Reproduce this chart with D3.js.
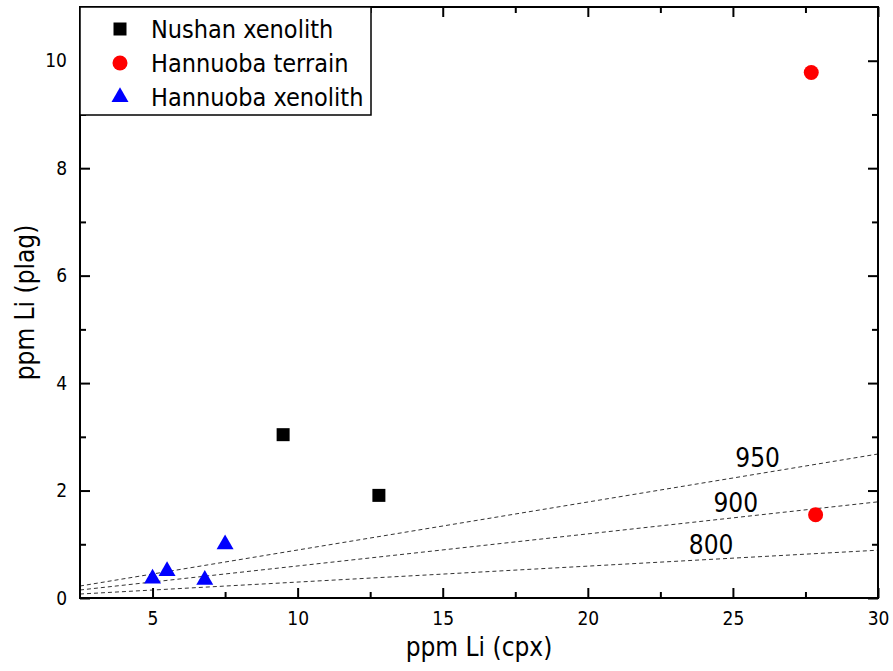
<!DOCTYPE html>
<html>
<head>
<meta charset="utf-8">
<script src="https://cdn.jsdelivr.net/npm/d3@7"></script>
<style>
  body { margin: 0; background: #fff; }
  text { font-family: "DejaVu Sans Condensed", "DejaVu Sans", sans-serif; fill: #000; }
</style>
</head>
<body>
<div id="chart"></div>
<script>
// series values
const nushanX = [9.5, 12.8];
const nushanY = [3.04, 1.91];
const terrainX = [27.7, 27.85];
const terrainY = [9.78, 1.55];
const xenoX = [5.0, 5.5, 6.8, 7.5];
const xenoY = [0.36, 0.5, 0.34, 1.0];

// temperature reference lines, y at x = 2.5 and x = 30
const refNames = ["800", "900", "950"];
const refStart = [0.074, 0.149, 0.223];
const refEnd = [0.89, 1.79, 2.68];
const refLabelX = [24.25, 25.1, 25.85];
const refLabelY = [0.99, 1.77, 2.6];

const xMajor = [5, 10, 15, 20, 25, 30];
const xMinor = [7.5, 12.5, 17.5, 22.5, 27.5];
const yMajor = [0, 2, 4, 6, 8, 10];
const yMinor = [1, 3, 5, 7, 9];

const legendNames = ["Nushan xenolith", "Hannuoba terrain", "Hannuoba xenolith"];

const width = 893;
const height = 671;
const marginTop = 7;
const marginRight = 15;
const marginBottom = 73;
const marginLeft = 80;

const x = d3.scaleLinear()
  .domain([2.5, 30])
  .range([marginLeft, width - marginRight]);

const y = d3.scaleLinear()
  .domain([0, 11])
  .range([height - marginBottom, marginTop]);

const svg = d3.select("#chart")
  .append("svg")
  .attr("width", width)
  .attr("height", height)
  .attr("viewBox", [0, 0, width, height]);

// reference lines
refNames.forEach((name, i) => {
  svg.append("line")
    .attr("x1", x(2.5)).attr("y1", y(refStart[i]))
    .attr("x2", x(30)).attr("y2", y(refEnd[i]))
    .attr("stroke", "#333")
    .attr("stroke-width", 1)
    .attr("stroke-dasharray", "4,3");
  svg.append("text")
    .attr("x", x(refLabelX[i]))
    .attr("y", y(refLabelY[i]))
    .attr("text-anchor", "middle")
    .attr("dominant-baseline", "central")
    .attr("font-size", 26)
    .text(name);
});

// axes, ticks pointing inward on all four sides
function styleAxis(g) {
  g.select(".domain").remove();
  g.selectAll(".tick line").attr("stroke", "#000").attr("stroke-width", 2);
  g.selectAll(".tick text").attr("font-size", 19);
}

const bottom = height - marginBottom;
const right = width - marginRight;

svg.append("g").attr("transform", `translate(0,${bottom})`)
  .call(d3.axisBottom(x).tickValues(xMajor).tickSizeInner(-10).tickSizeOuter(0).tickPadding(14))
  .call(styleAxis);
svg.append("g").attr("transform", `translate(0,${bottom})`)
  .call(d3.axisBottom(x).tickValues(xMinor).tickSize(-6).tickFormat(""))
  .call(styleAxis);
svg.append("g").attr("transform", `translate(0,${marginTop})`)
  .call(d3.axisTop(x).tickValues(xMajor).tickSize(-10).tickFormat(""))
  .call(styleAxis);
svg.append("g").attr("transform", `translate(0,${marginTop})`)
  .call(d3.axisTop(x).tickValues(xMinor).tickSize(-6).tickFormat(""))
  .call(styleAxis);

svg.append("g").attr("transform", `translate(${marginLeft},0)`)
  .call(d3.axisLeft(y).tickValues(yMajor).tickSizeInner(-10).tickSizeOuter(0).tickPadding(13))
  .call(styleAxis);
svg.append("g").attr("transform", `translate(${marginLeft},0)`)
  .call(d3.axisLeft(y).tickValues(yMinor).tickSize(-6).tickFormat(""))
  .call(styleAxis);
svg.append("g").attr("transform", `translate(${right},0)`)
  .call(d3.axisRight(y).tickValues(yMajor).tickSize(-10).tickFormat(""))
  .call(styleAxis);
svg.append("g").attr("transform", `translate(${right},0)`)
  .call(d3.axisRight(y).tickValues(yMinor).tickSize(-6).tickFormat(""))
  .call(styleAxis);

// frame
svg.append("rect")
  .attr("x", marginLeft)
  .attr("y", marginTop)
  .attr("width", right - marginLeft)
  .attr("height", bottom - marginTop)
  .attr("fill", "none")
  .attr("stroke", "#000")
  .attr("stroke-width", 2);

// axis titles
svg.append("text")
  .attr("x", (marginLeft + right) / 2)
  .attr("y", 656)
  .attr("text-anchor", "middle")
  .attr("font-size", 26)
  .text("ppm Li (cpx)");

svg.append("text")
  .attr("transform", `translate(34,${(marginTop + bottom) / 2}) rotate(-90)`)
  .attr("text-anchor", "middle")
  .attr("font-size", 26)
  .text("ppm Li (plag)");

// points
const square = d3.symbol().type(d3.symbolSquare).size(169);
const circle = d3.symbol().type(d3.symbolCircle).size(177);
const triangle = d3.symbol().type(d3.symbolTriangle).size(125);

svg.append("g").selectAll("path")
  .data(d3.range(nushanX.length))
  .join("path")
  .attr("d", square)
  .attr("transform", (i) => `translate(${x(nushanX[i])},${y(nushanY[i])})`)
  .attr("fill", "#000");

svg.append("g").selectAll("path")
  .data(d3.range(terrainX.length))
  .join("path")
  .attr("d", circle)
  .attr("transform", (i) => `translate(${x(terrainX[i])},${y(terrainY[i])})`)
  .attr("fill", "#ff0000");

svg.append("g").selectAll("path")
  .data(d3.range(xenoX.length))
  .join("path")
  .attr("d", triangle)
  .attr("transform", (i) => `translate(${x(xenoX[i])},${y(xenoY[i])})`)
  .attr("fill", "#0000ff");

// legend
const legend = svg.append("g");
legend.append("rect")
  .attr("x", marginLeft)
  .attr("y", marginTop)
  .attr("width", 291)
  .attr("height", 108)
  .attr("fill", "#fff")
  .attr("stroke", "#000")
  .attr("stroke-width", 1.5);

const legendSymbols = [square, circle, triangle];
const legendColors = ["#000", "#ff0000", "#0000ff"];
legendNames.forEach((name, i) => {
  const cy = marginTop + 22 + i * 34;
  legend.append("path")
    .attr("d", legendSymbols[i])
    .attr("transform", `translate(${marginLeft + 40},${cy})`)
    .attr("fill", legendColors[i]);
  legend.append("text")
    .attr("x", marginLeft + 71)
    .attr("y", cy)
    .attr("dominant-baseline", "central")
    .attr("font-size", 25)
    .text(name);
});
</script>
</body>
</html>
